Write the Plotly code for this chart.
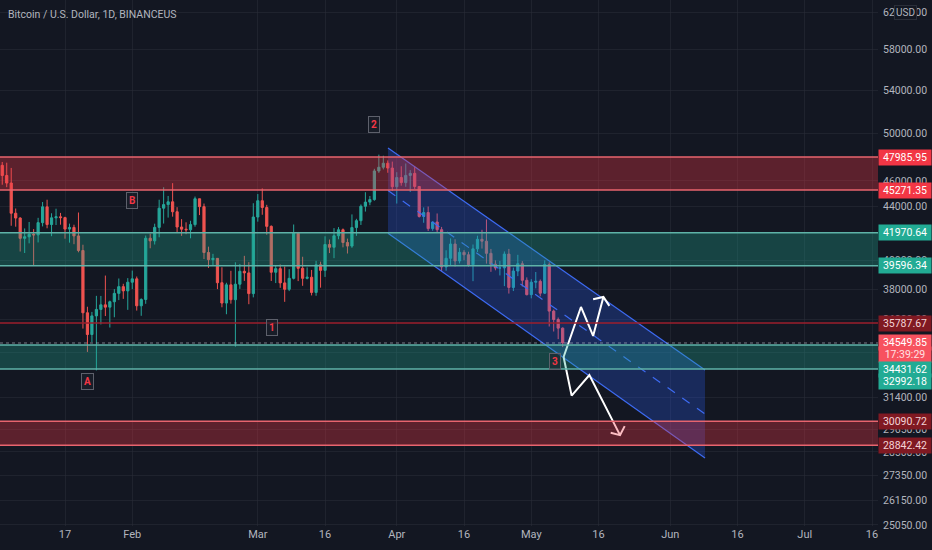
import math
import pandas as pd
import plotly.graph_objects as go

# daily candles, 2022-01-01 .. 2022-05-08 (last one still open)
dates = pd.date_range('2022-01-01', '2022-05-08', freq='D')
opens = [
    # Jan
    46216, 47722, 47286, 46446, 45832, 43451, 43082, 41566, 41680, 41864, 41822, 42736, 43946, 42592, 43099, 43177,
    43114, 42250, 42375, 41744, 40681, 36445, 35071, 36244, 36660, 36958, 36809, 37160, 37716, 38166, 37881,
    # Feb
    38466, 38694, 36896, 37311, 41574, 41382, 42380, 43840, 44118, 44338, 43565, 42407, 42244, 42197, 42586, 44575,
    43961, 40538, 40030, 40122, 38431, 37075, 38286, 37296, 38332, 39214, 39105, 37700,
    # Mar
    43160, 44421, 43892, 42455, 39148, 39398, 38420, 37988, 38730, 41942, 39422, 38730, 38807, 37778, 39671, 39280,
    41114, 40917, 41757, 42201, 41262, 41002, 42364, 42882, 43991, 44313, 44512, 46820, 47128, 47465, 47062,
    # Apr
    45538, 46281, 45868, 46453, 46622, 45555, 43206, 43503, 42287, 42782, 42207, 39521, 40127, 41148, 39942, 40551,
    40378, 39678, 40801, 41494, 41358, 40480, 39709, 39441, 39450, 40426, 38112, 39235, 39742, 38597,
    # May
    37630, 38468, 38525, 37728, 39690, 36552, 36014, 35468,
]
highs = [
    47954, 47990, 47570, 47510, 47070, 43816, 43145, 42300, 42786, 42248, 43100, 44322, 44500, 43448, 43800, 43476,
    43180, 42662, 42579, 43505, 41100, 36835, 36499, 37550, 37545, 38920, 37234, 38000, 38720, 38359, 38744,
    39265, 38855, 37387, 41772, 41913, 42656, 44500, 45492, 44798, 45822, 43920, 43000, 42760, 42876, 44751, 44582,
    44200, 40959, 40444, 40146, 39494, 38429, 39249, 39843, 39728, 40300, 39855, 44225,
    44949, 45400, 44101, 42527, 39613, 39693, 39547, 39362, 42594, 42039, 40236, 39486, 39310, 39947, 39887, 41718,
    41478, 42325, 42400, 42296, 41544, 43361, 43025, 44131, 45094, 44792, 46999, 48189, 48096, 47700, 47600,
    46720, 47213, 47444, 46890, 47200, 45555, 43900, 43970, 42800, 43434, 42414, 40699, 41561, 41500, 40870, 40709,
    40595, 41116, 41760, 42199, 42976, 40795, 39980, 39940, 40616, 40797, 39474, 40372, 39925, 38795,
    38675, 39167, 38651, 39980, 39845, 36650, 36140, 35510,
]
lows = [
    46208, 46654, 45696, 45500, 42500, 42430, 40610, 40501, 41200, 39650, 41268, 42450, 42311, 41725, 42555, 42581,
    41540, 41250, 41138, 40553, 35440, 34008, 34601, 32917, 35701, 36234, 35507, 36155, 37268, 37351, 36633,
    38000, 36586, 36250, 37026, 40843, 41116, 41645, 42666, 43117, 43188, 42000, 41748, 41870, 41570, 42427, 43310,
    40073, 39450, 39639, 38000, 36800, 36350, 37036, 34322, 38014, 38556, 37000, 37450,
    42809, 43334, 41832, 38550, 38407, 38088, 37155, 37867, 38656, 38540, 38223, 38660, 37578, 37555, 38098, 38828,
    40500, 40135, 41499, 40911, 40467, 40875, 41751, 42560, 43579, 44071, 44421, 46663, 46950, 46671, 45200,
    44200, 45620, 45530, 45118, 45353, 43121, 42727, 42107, 42125, 42000, 39200, 39254, 39588, 39551, 39766, 39991,
    39546, 38536, 40571, 40820, 39751, 39177, 39285, 38929, 38200, 37702, 37870, 38881, 38176, 37579,
    37386, 38052, 37518, 37671, 35571, 35258, 34785, 34300,
]
closes = [
    47722, 47286, 46446, 45832, 43451, 43082, 41566, 41680, 41864, 41822, 42736, 43946, 42592, 43099, 43177, 43114,
    42250, 42375, 41744, 40681, 36445, 35071, 36244, 36660, 36958, 36809, 37160, 37716, 38166, 37881, 38466,
    38694, 36896, 37311, 41574, 41382, 42380, 43840, 44118, 44338, 43565, 42407, 42244, 42197, 42586, 44575, 43961,
    40538, 40030, 40122, 38431, 37075, 38286, 37296, 38332, 39214, 39105, 37700, 43160,
    44421, 43892, 42455, 39148, 39398, 38420, 37988, 38730, 41942, 39422, 38730, 38807, 37778, 39671, 39280, 41114,
    40917, 41757, 42201, 41262, 41002, 42364, 42882, 43991, 44313, 44512, 46820, 47128, 47465, 47062, 45538,
    46281, 45868, 46453, 46622, 45555, 43206, 43503, 42287, 42782, 42207, 39521, 40127, 41148, 39942, 40551, 40378,
    39678, 40801, 41494, 41358, 40480, 39709, 39441, 39450, 40426, 38112, 39235, 39742, 38597, 37630,
    38468, 38525, 37728, 39690, 36552, 36014, 35468, 34549.85,
]

# horizontal zones (top, bottom) and the single level line
red_zones = [(47985.95, 45271.35), (30090.72, 28842.42)]
teal_zones = [(41970.64, 39596.34), (34431.62, 32992.18)]
red_level = 35787.67
last_price = 34549.85
countdown = '17:39:29'

# descending channel drawn from Mar 30 to Jun 8
channel_dates = ['2022-03-30 01:00', '2022-06-08 18:00']
channel_upper = [48753, 32941]
channel_mid = [45224, 30476]
channel_lower = [41942, 28197]

# hand drawn scenario arrows
up_path_dates = ['2022-05-08 05:00', '2022-05-12 02:00', '2022-05-14 19:00', '2022-05-17 02:00']
up_path_prices = [33705, 36820, 34980, 37480]
up_head_dates = ['2022-05-14 19:00', '2022-05-17 02:00', '2022-05-18 10:00']
up_head_prices = [37330, 37480, 36890]
down_path_dates = ['2022-05-08 05:00', '2022-05-10 00:00', '2022-05-13 23:00', '2022-05-20 19:00']
down_path_prices = [33705, 31480, 32650, 29360]
down_head_dates = ['2022-05-18 17:00', '2022-05-20 19:00', '2022-05-21 20:00']
down_head_prices = [29480, 29360, 29830]

# wave labels
wave_text = ['A', 'B', '1', '2', '3']
wave_dates = ['2022-01-22 02:00', '2022-02-01 00:00', '2022-03-04 05:00', '2022-03-26 22:00', '2022-05-06 07:00']
wave_prices = [32300, 44470, 35480, 50870, 33410]

# axes
x_tickvals = ['2022-01-17', '2022-02-01', '2022-03-01', '2022-03-16', '2022-04-01', '2022-04-16',
              '2022-05-01', '2022-05-16', '2022-06-01', '2022-06-16', '2022-07-01', '2022-07-16']
x_ticktext = ['17', 'Feb', 'Mar', '16', 'Apr', '16', 'May', '16', 'Jun', '16', 'Jul', '16']
y_tickvals = [62000, 58000, 54000, 50000, 46000, 44000, 40000, 38000, 36000, 34000, 31400,
              29650, 28500, 27350, 26150, 25050]

BG = '#131722'
GRID = 'rgba(42,46,57,0.55)'
UP = '#26a69a'
DOWN = '#ef5350'
FONT = 'Roboto, Liberation Sans, sans-serif'

fig = go.Figure()
fig.add_trace(go.Candlestick(
    x=dates, open=opens, high=highs, low=lows, close=closes,
    increasing=dict(line=dict(color=UP, width=1), fillcolor=UP),
    decreasing=dict(line=dict(color=DOWN, width=1), fillcolor=DOWN),
    whiskerwidth=0, showlegend=False, hoverinfo='skip'))

for top, bottom in red_zones:
    fig.add_shape(type='rect', xref='paper', x0=0, x1=1, yref='y', y0=bottom, y1=top,
                  fillcolor='rgba(242,54,69,0.33)', line_width=0, layer='above')
    for v in (top, bottom):
        fig.add_shape(type='line', xref='paper', x0=0, x1=1, yref='y', y0=v, y1=v,
                      line=dict(color='#e8646e', width=1.5), layer='above')
for top, bottom in teal_zones:
    fig.add_shape(type='rect', xref='paper', x0=0, x1=1, yref='y', y0=bottom, y1=top,
                  fillcolor='rgba(34,171,148,0.30)', line_width=0, layer='above')
    for v in (top, bottom):
        fig.add_shape(type='line', xref='paper', x0=0, x1=1, yref='y', y0=v, y1=v,
                      line=dict(color='#5fb3a8', width=1.5), layer='above')
fig.add_shape(type='line', xref='paper', x0=0, x1=1, yref='y', y0=red_level, y1=red_level,
              line=dict(color='#9c1f2c', width=1.5), layer='above')
fig.add_shape(type='line', xref='paper', x0=0, x1=1, yref='y', y0=last_price, y1=last_price,
              line=dict(color='rgba(190,195,205,0.6)', width=1, dash='dot'), layer='above')

# channel
cx = [channel_dates[0], channel_dates[1], channel_dates[1], channel_dates[0], channel_dates[0]]
cy = [channel_upper[0], channel_upper[1], channel_lower[1], channel_lower[0], channel_upper[0]]
fig.add_trace(go.Scatter(x=cx, y=cy, fill='toself', fillcolor='rgba(41,98,255,0.26)', mode='lines',
                         line=dict(width=0), showlegend=False, hoverinfo='skip'))
for ys in (channel_upper, channel_lower):
    fig.add_trace(go.Scatter(x=channel_dates, y=ys, mode='lines', line=dict(color='#3d6bf2', width=1.2),
                             showlegend=False, hoverinfo='skip'))
fig.add_trace(go.Scatter(x=channel_dates, y=channel_mid, mode='lines',
                         line=dict(color='#3d6bf2', width=1.2, dash='dash'), showlegend=False, hoverinfo='skip'))

for xs, ys in [(up_path_dates, up_path_prices), (up_head_dates, up_head_prices),
               (down_path_dates, down_path_prices), (down_head_dates, down_head_prices)]:
    fig.add_trace(go.Scatter(x=xs, y=ys, mode='lines', line=dict(color='#ffffff', width=2),
                             showlegend=False, hoverinfo='skip'))

# wave labels
for t, d, p in zip(wave_text, wave_dates, wave_prices):
    fig.add_annotation(x=d, y=math.log10(p), text='<b>%s</b>' % t, showarrow=False,
                       font=dict(color='#f23645', size=10, family=FONT),
                       bgcolor='rgba(30,34,45,0.55)', bordercolor='#5d606b', borderwidth=1, borderpad=2)

# price scale labels
def price_tag(v, bg, fg='#ffffff', yshift=0, text=None):
    fig.add_annotation(xref='paper', x=1.0, xanchor='left', y=math.log10(v), yshift=yshift,
                       text=text or '%.2f' % v, showarrow=False, width=50, align='center',
                       font=dict(color=fg, size=10.5, family=FONT), bgcolor=bg, borderpad=1)

price_tag(red_zones[0][0], '#f23645')
price_tag(red_zones[0][1], '#f23645')
price_tag(teal_zones[0][0], '#22ab94')
price_tag(teal_zones[0][1], '#22ab94')
price_tag(red_level, '#801922', fg='#f3d3d6')
price_tag(last_price, '#f7525f')
price_tag(last_price, '#f7525f', fg='#ffe0e2', yshift=-12, text=countdown)
price_tag(teal_zones[1][0], '#22ab94', yshift=-25)
price_tag(teal_zones[1][1], '#22ab94', yshift=-12)
price_tag(red_zones[1][0], '#801922', fg='#f3d3d6')
price_tag(red_zones[1][1], '#801922', fg='#f3d3d6')

fig.add_annotation(xref='paper', x=1.0308, xanchor='center', y=math.log10(62000), text='USD', showarrow=False,
                   font=dict(color='#b2b5be', size=10, family=FONT), bgcolor=BG,
                   bordercolor='#2a2e39', borderwidth=1, borderpad=1)

fig.add_annotation(xref='paper', yref='paper', x=0.007, y=1, xanchor='left', yanchor='top', yshift=-6,
                   text='Bitcoin / U.S. Dollar, 1D, BINANCEUS', showarrow=False,
                   font=dict(color='#b2b5be', size=10.5, family=FONT))

fig.update_layout(
    width=932, height=550,
    margin=dict(l=0, r=54, t=0, b=24),
    paper_bgcolor=BG, plot_bgcolor=BG,
    showlegend=False,
    xaxis=dict(type='date', range=['2022-01-02 12:00', '2022-07-17 08:00'],
               tickvals=x_tickvals, ticktext=x_ticktext, showgrid=True, gridcolor=GRID, gridwidth=1,
               zeroline=False, showline=False, rangeslider=dict(visible=False),
               tickfont=dict(color='#b2b5be', size=11, family=FONT)),
    yaxis=dict(type='log', side='right', range=[math.log10(25005), math.log10(63330)],
               tickvals=y_tickvals, tickformat='.2f', showgrid=True, gridcolor=GRID, gridwidth=1,
               zeroline=False, showline=False, ticklabelstandoff=4,
               tickfont=dict(color='#b2b5be', size=10.5, family=FONT)),
)

fig.write_html('out.html', config={'displayModeBar': False},
               post_script="document.body.style.margin='0';"
                           "document.body.style.overflow='hidden';"
                           "document.body.style.background='#131722';")
